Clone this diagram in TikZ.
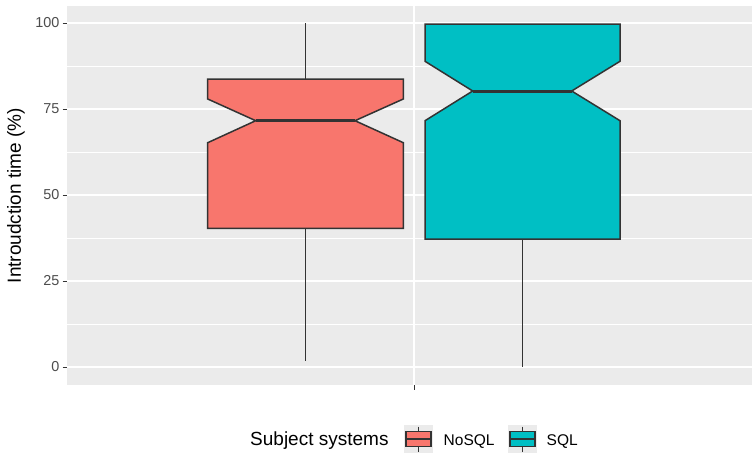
\documentclass[tikz,border=0pt]{standalone}
\usepackage{fontspec}
\setmainfont{Liberation Sans}
\begin{document}
\begin{tikzpicture}[x=1pt,y=-1pt,
  panel/.style={fill=panelgray,draw=none},
  majorgrid/.style={draw=white,line width=1.6pt},
  minorgrid/.style={draw=white,line width=0.8pt},
  boxline/.style={draw=boxgray,line width=1.5pt,line join=miter},
  medianline/.style={draw=boxgray,line width=3pt},
  whisker/.style={draw=boxgray,line width=1.6pt},
  ticklab/.style={text=tickgray,font=\fontsize{14.4}{17}\selectfont,inner sep=0pt},
  legtext/.style={text=black,font=\fontsize{15.5}{18}\selectfont,inner sep=0pt},
  titletext/.style={text=black,font=\fontsize{19}{22}\selectfont,inner sep=0pt}
]
\definecolor{panelgray}{HTML}{EBEBEB}
\definecolor{boxgray}{HTML}{333333}
\definecolor{tickgray}{HTML}{4D4D4D}
\definecolor{nosql}{HTML}{F8766D}
\definecolor{sqlc}{HTML}{00BFC4}
\useasboundingbox (0,0) rectangle (752,455);
\fill[white] (0,0) rectangle (752,455);
% panel
\path[panel] (67,6) rectangle (752,385);
% minor grid
\foreach \yy in {324,238,152,66} \draw[minorgrid] (67,\yy) -- (752,\yy);
% major grid
\foreach \yy in {367,281,195,109,23} \draw[majorgrid] (67,\yy) -- (752,\yy);
\draw[majorgrid] (414,6) -- (414,385);
% y ticks and labels
\foreach \yy/\lab in {367/0,281/25,195/50,109/75,23/100} {
  \draw[boxgray,line width=1pt] (62.5,\yy) -- (67,\yy);
  \node[ticklab,anchor=east] at (59.5,\yy) {\lab};
}
% x tick
\draw[boxgray,line width=1pt] (414,385) -- (414,390);
% NoSQL
\draw[whisker] (305.5,23) -- (305.5,79);
\draw[whisker] (305.5,228.3) -- (305.5,361);
\draw[boxline,fill=nosql] (207.7,79) -- (403.3,79) -- (403.3,99) -- (355,120.7) -- (403.3,142.7) -- (403.3,228.3) -- (207.7,228.3) -- (207.7,142.7) -- (255.7,120.7) -- (207.7,99) -- cycle;
\draw[medianline] (255.7,120.7) -- (355,120.7);
% SQL
\draw[whisker] (522.5,239) -- (522.5,367);
\draw[boxline,fill=sqlc] (425,24) -- (620,24) -- (620,61.3) -- (571.7,91) -- (620,120.7) -- (620,239) -- (425,239) -- (425,120.7) -- (472.7,91) -- (425,61.3) -- cycle;
\draw[medianline] (472.7,91) -- (571.7,91);
% axis title
\node[titletext,rotate=90] (ytitle) at (16,195.5) {Introudction time (\%)};
% legend
\node[titletext,anchor=base west] (legtitle) at (250,445.5) {Subject systems};
\foreach \dx/\col in {0/nosql,104/sqlc} {
  \begin{scope}[xshift=\dx]
    \fill[panelgray] (404,425) rectangle (433,453);
    \draw[whisker,line width=1.2pt] (418.5,426.5) -- (418.5,431.5);
    \draw[whisker,line width=1.2pt] (418.5,446.5) -- (418.5,451.5);
    \draw[boxline,line width=1.2pt,fill=\col] (406,431.5) rectangle (431,446.5);
    \draw[boxgray,line width=2pt] (406,439) -- (431,439);
  \end{scope}
}
\node[legtext,anchor=base west] (lnosql) at (443.5,445) {NoSQL};
\node[legtext,anchor=base west] (lsql) at (546.5,445) {SQL};
\end{tikzpicture}
\end{document}
